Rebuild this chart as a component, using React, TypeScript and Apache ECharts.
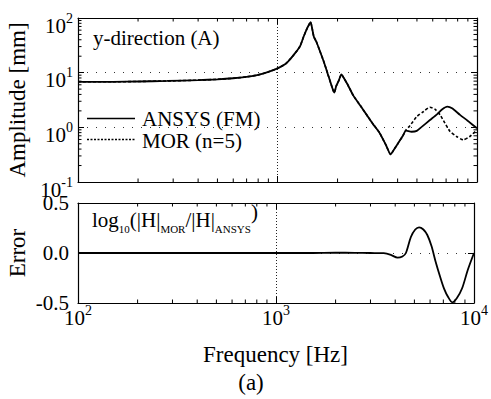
import React, { useEffect, useRef } from 'react';
import * as echarts from 'echarts';

const FONT = 'Liberation Serif';

// ANSYS (FM) amplitude
const freqAnsys = [100, 150, 200, 280, 400, 500, 600, 700, 800, 900, 1000, 1100, 1170, 1250, 1300, 1350, 1400, 1440, 1465, 1490, 1520, 1570, 1630, 1700, 1780, 1860, 1925, 1970, 2030, 2090, 2150, 2250, 2400, 2600, 2800, 3000, 3250, 3500, 3690, 3850, 4035, 4250, 4405, 4700, 4990, 5300, 5810, 6300, 6700, 7100, 7500, 8220, 9000, 10000];
const ampAnsys = [6.8, 6.8, 6.9, 7.05, 7.3, 7.55, 7.9, 8.4, 9.1, 10.3, 12.0, 14.6, 18.5, 25, 31, 45, 62, 76, 84, 66, 46, 36, 25, 16.5, 9.9, 6.0, 4.3, 5.7, 7.2, 9.3, 8.0, 6.0, 3.8, 2.5, 1.69, 1.17, 0.79, 0.47, 0.32, 0.4, 0.52, 0.7, 0.87, 0.83, 0.86, 1.03, 1.36, 1.73, 2.14, 2.39, 2.23, 1.69, 1.31, 0.96];

// MOR (n=5) amplitude
const freqMor = [100, 150, 200, 280, 400, 500, 600, 700, 800, 900, 1000, 1100, 1170, 1250, 1300, 1350, 1400, 1440, 1465, 1490, 1520, 1570, 1630, 1700, 1780, 1860, 1925, 1970, 2030, 2090, 2150, 2250, 2400, 2600, 2800, 3000, 3250, 3500, 3690, 3850, 4035, 4250, 4405, 4600, 4990, 5400, 5810, 6150, 6530, 6900, 7330, 7900, 8530, 9200, 10000];
const ampMor = [6.8, 6.8, 6.9, 7.05, 7.3, 7.55, 7.9, 8.4, 9.1, 10.3, 12.0, 14.6, 18.5, 25, 31, 45, 62, 76, 84, 66, 46, 36, 25, 16.5, 9.9, 6.0, 4.3, 5.7, 7.2, 9.3, 8.0, 6.0, 3.8, 2.5, 1.69, 1.17, 0.79, 0.47, 0.32, 0.4, 0.52, 0.7, 0.9, 1.06, 1.57, 1.95, 2.33, 2.15, 1.69, 1.2, 0.84, 0.68, 0.59, 0.68, 0.9];

// Error log10(|H|MOR/|H|ANSYS)
const freqErr = [100, 200, 400, 700, 1000, 1500, 2000, 2500, 3000, 3500, 3800, 4110, 4350, 4530, 4800, 5050, 5280, 5550, 5810, 6100, 6400, 6750, 7050, 7400, 7770, 8200, 8710, 9300, 10000];
const errVals = [0, 0, 0, 0, 0, 0, 0.003, 0.002, 0, -0.002, -0.018, -0.047, -0.035, 0, 0.16, 0.235, 0.257, 0.235, 0.18, 0.07, -0.087, -0.24, -0.353, -0.44, -0.493, -0.45, -0.353, -0.17, 0.0];

const xMinorTicks = [200, 300, 400, 500, 600, 700, 800, 900, 2000, 3000, 4000, 5000, 6000, 7000, 8000, 9000];
const yMinorTicks = [0.2, 0.3, 0.4, 0.5, 0.6, 0.7, 0.8, 0.9, 2, 3, 4, 5, 6, 7, 8, 9, 20, 30, 40, 50, 60, 70, 80, 90];

const legendNames = ['ANSYS (FM)', 'MOR (n=5)'];

const powLabel = (v: number) => `{b|10}{s|${Math.round(Math.log10(v))}}`;
const supRich = {
  b: { fontSize: 21, fontFamily: FONT, color: '#000', padding: [4, 0, 0, 0], verticalAlign: 'bottom' },
  s: { fontSize: 14, fontFamily: FONT, color: '#000', verticalAlign: 'top' },
};

const axisLineStyle = { color: '#000', width: 1.2 };
const tickStyle = { show: true, inside: true, length: 6, lineStyle: { color: '#000', width: 1 } };

function xAxis(gridIndex: number, position: string, label: any, split: boolean) {
  return {
    type: 'log', logBase: 10, min: 100, max: 10000, gridIndex, position,
    axisLine: { show: true, onZero: false, lineStyle: axisLineStyle },
    axisTick: tickStyle,
    minorTick: { show: false },
    axisLabel: label,
    splitLine: { show: split, lineStyle: { color: '#222', type: [1, 2], width: 1 } },
  };
}

function minorXSeries(xAxisIndex: number, yAxisIndex: number, yLo: number, yHi: number) {
  return {
    type: 'custom', xAxisIndex, yAxisIndex, silent: true, clip: false, z: 5,
    data: xMinorTicks.map((v) => [v, yLo]),
    renderItem: (params: any, api: any) => {
      const v = api.value(0);
      const pb = api.coord([v, yLo]);
      const pt = api.coord([v, yHi]);
      return {
        type: 'group',
        children: [
          { type: 'line', shape: { x1: pb[0], y1: pb[1], x2: pb[0], y2: pb[1] - 3.5 }, style: { stroke: '#000', lineWidth: 1 } },
          { type: 'line', shape: { x1: pt[0], y1: pt[1], x2: pt[0], y2: pt[1] + 3.5 }, style: { stroke: '#000', lineWidth: 1 } },
        ],
      };
    },
  };
}

function minorYSeries() {
  return {
    type: 'custom', xAxisIndex: 0, yAxisIndex: 0, silent: true, clip: false, z: 5,
    data: yMinorTicks.map((v) => [100, v]),
    renderItem: (params: any, api: any) => {
      const v = api.value(1);
      const pl = api.coord([100, v]);
      const pr = api.coord([10000, v]);
      return {
        type: 'group',
        children: [
          { type: 'line', shape: { x1: pl[0], y1: pl[1], x2: pl[0] + 3.5, y2: pl[1] }, style: { stroke: '#000', lineWidth: 1 } },
          { type: 'line', shape: { x1: pr[0], y1: pr[1], x2: pr[0] - 3.5, y2: pr[1] }, style: { stroke: '#000', lineWidth: 1 } },
        ],
      };
    },
  };
}

export default function App() {
  const ref = useRef<HTMLDivElement>(null);
  useEffect(() => {
    const chart = echarts.init(ref.current!, null, { renderer: 'svg' });
    const option: any = {
      animation: false,
      backgroundColor: '#fff',
      grid: [
        { left: 78, top: 18, width: 399, height: 164 },
        { left: 78, top: 203, width: 399, height: 100 },
      ],
      xAxis: [
        xAxis(0, 'bottom', { show: false }, true),
        xAxis(0, 'top', { show: false }, false),
        xAxis(1, 'bottom', { show: true, margin: 0, formatter: powLabel, rich: supRich, showMinLabel: true, showMaxLabel: true, hideOverlap: false }, true),
        xAxis(1, 'top', { show: false }, false),
      ],
      yAxis: [
        {
          type: 'log', logBase: 10, min: 0.1, max: 100, gridIndex: 0, position: 'left',
          axisLine: { show: true, onZero: false, lineStyle: axisLineStyle },
          axisTick: tickStyle,
          axisLabel: { show: true, margin: 5, padding: [11, 0, 0, 0], formatter: powLabel, rich: supRich, showMinLabel: true, showMaxLabel: true },
          splitLine: { show: true, lineStyle: { color: '#333', type: [1, 8], width: 1 } },
        },
        {
          type: 'log', logBase: 10, min: 0.1, max: 100, gridIndex: 0, position: 'right',
          axisLine: { show: true, onZero: false, lineStyle: axisLineStyle },
          axisTick: tickStyle,
          axisLabel: { show: false },
          splitLine: { show: false },
        },
        {
          type: 'value', min: -0.5, max: 0.5, interval: 0.5, gridIndex: 1, position: 'left',
          axisLine: { show: true, onZero: false, lineStyle: axisLineStyle },
          axisTick: tickStyle,
          axisLabel: { show: true, margin: 9, fontFamily: FONT, fontSize: 21, color: '#000', formatter: (v: number) => v.toFixed(1) },
          splitLine: { show: true, lineStyle: { color: '#333', type: [1, 8], width: 1 } },
        },
        {
          type: 'value', min: -0.5, max: 0.5, interval: 0.5, gridIndex: 1, position: 'right',
          axisLine: { show: true, onZero: false, lineStyle: axisLineStyle },
          axisTick: tickStyle,
          axisLabel: { show: false },
          splitLine: { show: false },
        },
      ],
      series: [
        {
          name: legendNames[1], type: 'line', xAxisIndex: 0, yAxisIndex: 0,
          data: freqMor.map((f, i) => [f, ampMor[i]]),
          symbol: 'none', smooth: 0.2, z: 3,
          lineStyle: { color: '#000', width: 1.6, type: [3, 2] },
        },
        {
          name: legendNames[0], type: 'line', xAxisIndex: 0, yAxisIndex: 0,
          data: freqAnsys.map((f, i) => [f, ampAnsys[i]]),
          symbol: 'none', smooth: 0.2, z: 4,
          lineStyle: { color: '#000', width: 1.8 },
        },
        {
          name: 'Error', type: 'line', xAxisIndex: 2, yAxisIndex: 2,
          data: freqErr.map((f, i) => [f, errVals[i]]),
          symbol: 'none', smooth: 0.3, z: 4,
          lineStyle: { color: '#000', width: 1.8 },
        },
        minorXSeries(0, 0, 0.1, 100),
        minorXSeries(2, 2, -0.5, 0.5),
        minorYSeries(),
      ],
      graphic: [
        { type: 'text', x: 93, y: 38, style: { text: 'y-direction (A)', fontFamily: FONT, fontSize: 21, fill: '#000', align: 'left', verticalAlign: 'middle' } },
        // legend
        { type: 'line', shape: { x1: 87, y1: 118.5, x2: 135, y2: 118.5 }, style: { stroke: '#000', lineWidth: 1.5 } },
        { type: 'text', x: 142, y: 119, style: { text: legendNames[0], fontFamily: FONT, fontSize: 21, fill: '#000', align: 'left', verticalAlign: 'middle' } },
        { type: 'line', shape: { x1: 87, y1: 139.5, x2: 135, y2: 139.5 }, style: { stroke: '#000', lineWidth: 1.5, lineDash: [2, 1.5] } },
        { type: 'text', x: 142, y: 141, style: { text: legendNames[1], fontFamily: FONT, fontSize: 21, fill: '#000', align: 'left', verticalAlign: 'middle' } },
        {
          type: 'text', x: 92, y: 201,
          style: {
            text: '{b|log}{s|10}{b|(|H|}{s|MOR}{b|/|H|}{s|ANSYS}{r|)}',
            align: 'left', verticalAlign: 'top',
            rich: {
              b: { fontFamily: FONT, fontSize: 21, padding: [8, 0, 4, 0], fill: '#000' },
              s: { fontFamily: FONT, fontSize: 11, verticalAlign: 'bottom', fill: '#000' },
              r: { fontFamily: FONT, fontSize: 21, verticalAlign: 'top', fill: '#000' },
            },
          },
        },
        { type: 'text', x: 17, y: 100, rotation: Math.PI / 2, style: { text: 'Amplitude [mm]', fontFamily: FONT, fontSize: 23, fill: '#000', align: 'center', verticalAlign: 'middle' } },
        { type: 'text', x: 17, y: 253, rotation: Math.PI / 2, style: { text: 'Error', fontFamily: FONT, fontSize: 23, fill: '#000', align: 'center', verticalAlign: 'middle' } },
        { type: 'text', x: 275.5, y: 354, style: { text: 'Frequency [Hz]', fontFamily: FONT, fontSize: 23, fill: '#000', align: 'center', verticalAlign: 'middle' } },
        { type: 'text', x: 251, y: 382, style: { text: '(a)', fontFamily: FONT, fontSize: 23, fill: '#000', align: 'center', verticalAlign: 'middle' } },
      ],
    };
    chart.setOption(option);
    return () => chart.dispose();
  }, []);
  return <div ref={ref} style={{ position: 'absolute', left: 0, top: 0, width: 491, height: 399 }} />;
}
